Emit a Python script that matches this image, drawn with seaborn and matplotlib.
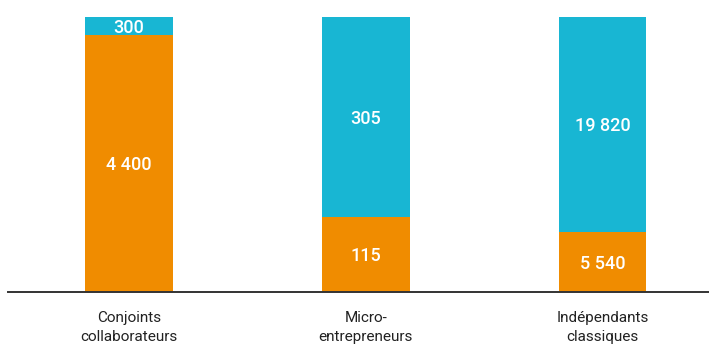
import matplotlib
matplotlib.use("Agg")
import matplotlib.pyplot as plt
import seaborn as sns
import pandas as pd

categories = ["Conjoints\ncollaborateurs", "Micro-\nentrepreneurs", "Indépendants\nclassiques"]
orange_values = [4400, 115, 5540]
blue_values = [300, 305, 19820]
orange_labels = ["4 400", "115", "5 540"]
blue_labels = ["300", "305", "19 820"]

ORANGE = "#F08C00"
BLUE = "#18B6D3"

sns.set_theme(style="white")
plt.rcParams["font.family"] = ["Roboto", "DejaVu Sans"]

totals = [o + b for o, b in zip(orange_values, blue_values)]
df = pd.DataFrame({
    "cat": categories,
    "total": [100.0] * len(categories),
    "orange": [100.0 * o / t for o, t in zip(orange_values, totals)],
})

fig = plt.figure(figsize=(7.09, 3.47), dpi=100)
ax = fig.add_axes([8 / 709, 55 / 347, 701 / 709, 292 / 347])

# full-height blue bar, then the orange share drawn over it
sns.barplot(data=df, x="cat", y="total", color=BLUE, width=0.37, ax=ax,
            saturation=1, linewidth=0)
sns.barplot(data=df, x="cat", y="orange", color=ORANGE, width=0.37, ax=ax,
            saturation=1, linewidth=0)

ax.set_ylim(0, 100 * 292 / 275)
ax.set_xlim(-121 / 236.75, 2 + 106.5 / 236.75)

for i, (o, lab_o, lab_b) in enumerate(zip(df["orange"], orange_labels, blue_labels)):
    ax.text(i, o / 2, lab_o, ha="center", va="center_baseline", color="white",
            fontsize=13, fontweight="medium")
    ax.text(i, o + (100 - o) / 2, lab_b, ha="center", va="center_baseline", color="white",
            fontsize=13, fontweight="medium")

ax.set_xlabel("")
ax.set_ylabel("")
ax.set_yticks([])
ax.tick_params(axis="x", length=0, pad=14, labelsize=11, labelcolor="#222222")
for lbl in ax.get_xticklabels():
    lbl.set_linespacing(1.45)
for side in ["top", "left", "right"]:
    ax.spines[side].set_visible(False)
ax.spines["bottom"].set_color("#333333")
ax.spines["bottom"].set_linewidth(1.4)

fig.savefig("out.png", dpi=100)
